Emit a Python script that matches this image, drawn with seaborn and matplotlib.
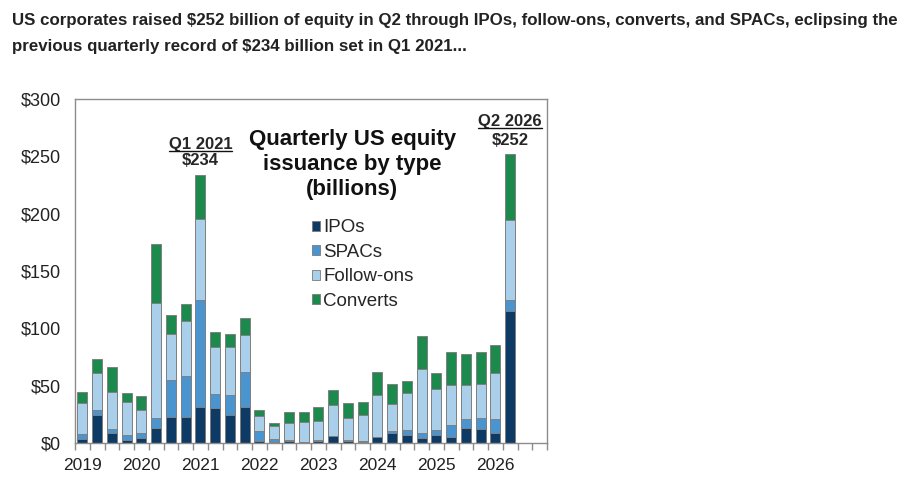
import numpy as np
import pandas as pd
import seaborn as sns
import matplotlib.pyplot as plt
from matplotlib.patches import Patch
from matplotlib.lines import Line2D

sns.set_style("white")
plt.rcParams['font.family'] = ['Liberation Sans', 'DejaVu Sans']

# quarterly US equity issuance, $bn
years = list(range(2019, 2027))
quarters = [f"{y}Q{q}" for y in years for q in range(1, 5)][:30]

ipos = [3.5, 24, 8.4, 3, 4.4, 12.8, 23, 23, 31.7, 30.5, 24.7, 31.7, 2, 1.2, 1.7, 0.5,
        2, 5.8, 2, 0.6, 5, 8.4, 7.3, 4, 7.3, 5.5, 12.8, 12.2, 8.4, 115.4]
spacs = [4.3, 5, 3.8, 4, 4, 8.7, 32, 35, 93.3, 12.2, 17.2, 30, 8.8, 2.3, 0.9, 0.7,
         1, 0.6, 0.6, 0.8, 0.5, 2.4, 4.3, 4.4, 4.3, 10.2, 8.1, 9.6, 12.5, 9.6]
follow_ons = [26.8, 32, 32.6, 29, 20.6, 100.5, 40, 48, 70.3, 41.3, 42, 32.6, 12.5, 11, 14.6, 16.8,
              16, 26.7, 19, 23.3, 36.7, 23.2, 31.7, 56, 35.5, 34.9, 30, 29.7, 39.9, 69.5]
converts = [9.6, 12.5, 21.8, 7.6, 12.3, 51.5, 17, 15, 38.7, 13, 11, 15, 5.8, 2.7, 10.1, 8.7,
            12, 13, 13, 11.3, 19.4, 17.5, 11, 29, 13.8, 29, 26.7, 28.2, 25, 57.5]

series = ["IPOs", "SPACs", "Follow-ons", "Converts"]
colors = ["#0d3b66", "#4a94d0", "#aacfeb", "#1b8a4c"]

df = pd.DataFrame({"quarter": quarters, "IPOs": ipos, "SPACs": spacs,
                   "Follow-ons": follow_ons, "Converts": converts})
# cumulative tops so each layer can be drawn as its own bar over the previous one
cum = df[series].cumsum(axis=1)
cum["quarter"] = df["quarter"]

fig = plt.figure(figsize=(9.08, 4.87), dpi=100)
ax = fig.add_axes([75/908, 1 - 443/487, 472/908, 344/487])

for name, col in reversed(list(zip(series, colors))):
    sns.barplot(data=cum, x="quarter", y=name, order=quarters, color=col,
                edgecolor="#808080", linewidth=0.7, width=0.68, errorbar=None,
                saturation=1, ax=ax)

ax.set_xlim(-0.5, 31.5)
ax.set_ylim(0, 300)
ax.set_xlabel("")
ax.set_ylabel("")

ax.set_xticks(np.arange(0, 30, 4))
ax.set_xticklabels([str(y) for y in years])
ax.set_xticks(np.arange(-0.5, 32, 1), minor=True)
ax.tick_params(axis="x", which="major", length=0, pad=11, labelsize=12.5, labelcolor="#222222")
ax.tick_params(axis="x", which="minor", length=5, width=1, color="#8c8c8c", direction="out", bottom=True)

yt = np.arange(0, 301, 50)
ax.set_yticks(yt)
ax.set_yticklabels([f"${v}" for v in yt])
ax.tick_params(axis="y", length=0, pad=10, labelsize=13, labelcolor="#222222")

for s in ax.spines.values():
    s.set_color("#8c8c8c")
    s.set_linewidth(1)

# annotations
q1 = quarters.index("2021Q1")
q2 = quarters.index("2026Q2")
tot = cum["Converts"]
heads = [
    ax.text(q1, tot[q1] + 26.5, "Q1 2021", ha="center", va="center", fontsize=12, fontweight="bold"),
    ax.text(q2, tot[q2] + 28, "Q2 2026", ha="center", va="center", fontsize=12, fontweight="bold"),
]
ax.text(q1, tot[q1] + 12.5, f"${tot[q1]:.0f}", ha="center", va="center", fontsize=12, fontweight="bold")
ax.text(q2, tot[q2] + 12, f"${tot[q2]:.0f}", ha="center", va="center", fontsize=12, fontweight="bold")

ax.text(0.587, 0.912, "Quarterly US equity\nissuance by type\n(billions)", transform=ax.transAxes,
        ha="center", va="top", fontsize=16, fontweight="bold", linespacing=1.25, color="#111111")

handles = [Patch(facecolor=c, edgecolor="#7a7a7a", linewidth=0.6) for c in colors]
ax.legend(handles, series, loc="upper left", bbox_to_anchor=(0.502, 0.65), frameon=False,
          fontsize=13.5, handlelength=0.45, handleheight=0.45, handletextpad=0.15,
          labelspacing=0.4, borderaxespad=0, borderpad=0)

fig.text(12/908, 1 - 20/487, "US corporates raised $252 billion of equity in Q2 through IPOs, follow-ons, "
         "converts, and SPACs, eclipsing the", ha="left", va="center", fontsize=12.2,
         fontweight="bold", color="#222222")
fig.text(12/908, 1 - 47/487, "previous quarterly record of $234 billion set in Q1 2021...", ha="left",
         va="center", fontsize=12.2, fontweight="bold", color="#222222")

# underline the two callout headings
fig.canvas.draw()
inv = fig.transFigure.inverted()
for t in heads:
    bb = t.get_window_extent()
    (x0, y0), (x1, _) = inv.transform([(bb.x0, bb.y0 + 1), (bb.x1, bb.y0)])
    fig.add_artist(Line2D([x0, x1], [y0, y0], color="#111111", lw=1))

fig.savefig("out.png", dpi=100)
